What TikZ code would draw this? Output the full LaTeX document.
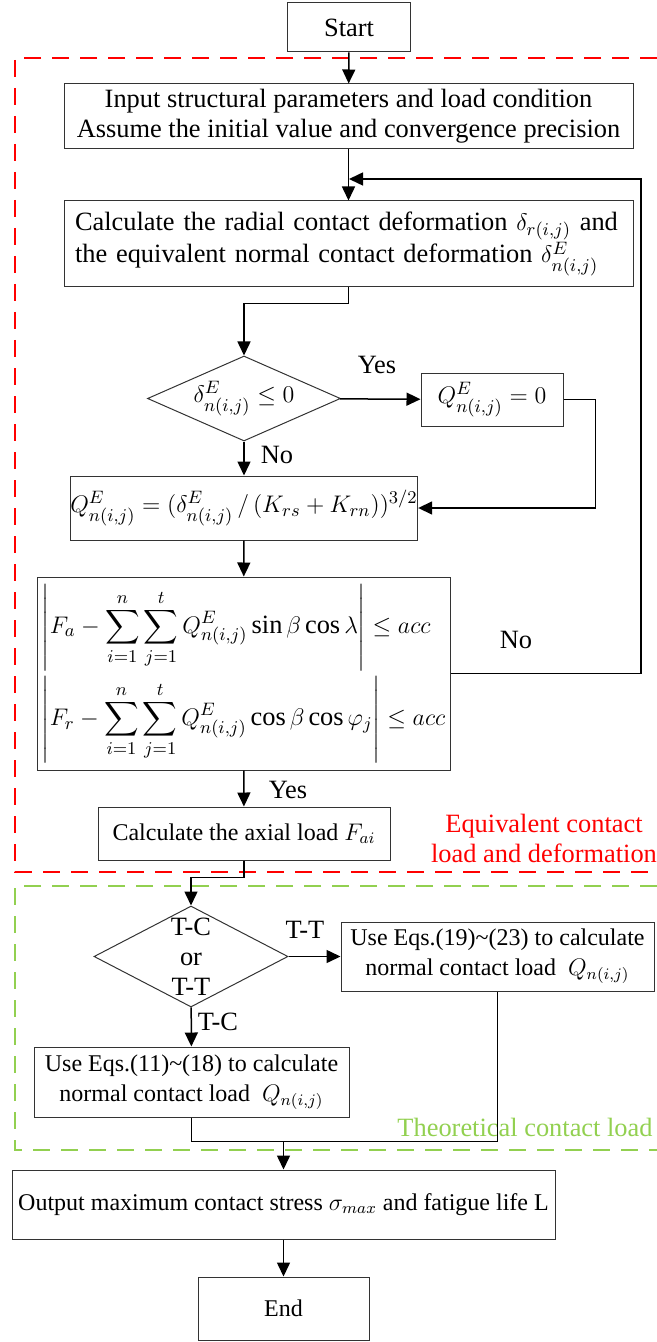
\documentclass[tikz,border=0pt]{standalone}
\usepackage{amsmath}
\usepackage{fontspec}
\setmainfont{Liberation Serif}
\usetikzlibrary{shapes.geometric,arrows.meta}

\definecolor{frameRed}{RGB}{255,0,0}
\definecolor{frameGreen}{RGB}{146,208,80}
\newcommand{\mainsize}{\fontsize{13.2}{15}\selectfont}
\newcommand{\boxsize}{\fontsize{12}{15}\selectfont}

\begin{document}
\begin{tikzpicture}[x=0.5pt,y=-0.5pt,
  box/.style={draw=black!80, line width=0.5pt, align=center, inner sep=0pt, font=\mainsize},
  decision/.style={box, diamond},
  line/.style={line width=0.75pt},
  arrow/.style={line, -{Triangle[length=7pt,width=6.5pt]}},
  tag/.style={inner sep=0pt, font=\mainsize},
  frame/.style={line width=1.1pt, dash pattern=on 8.5pt off 5.5pt}]
  \useasboundingbox (0,0) rectangle (657,1342);

  % dashed frames
  \draw[frame, frameRed] (657,58) -- (15,58) -- (15,872) -- (657,872);
  \draw[frame, frameGreen] (657,886) -- (15,886) -- (15,1150) -- (657,1150);
  \node[tag, text=frameRed, align=center] (eqtag) at (544,838) {Equivalent contact\\load and deformation};
  \node[tag, text=frameGreen] (thtag) at (525,1127) {Theoretical contact load};

  \node[box, minimum width=61.5pt, minimum height=24.5pt] (start) at (349,27.5) {Start};
  \node[box, minimum width=284.5pt, minimum height=32.5pt] (input) at (348.5,116.5)
    {Input structural parameters and load condition\\Assume the initial value and convergence precision};
  \node[box, minimum width=284.5pt, minimum height=43pt, text width=273.5pt, align=left, font=\fontsize{13.2}{16}\selectfont] (calc) at (348.5,244)
    {Calculate the radial contact deformation $\delta_{r(i,j)}$ and\\the equivalent normal contact deformation $\delta^{E}_{n(i,j)}$};
  \node[decision, minimum width=96.5pt, minimum height=42.5pt, aspect=2.27] (dec1) at (244,398.5) {$\delta^{E}_{n(i,j)}\le 0$};
  \node[box, minimum width=71pt, minimum height=26.5pt] (qzero) at (492,399.5) {$Q^{E}_{n(i,j)}=0$};
  \node[box, minimum width=162pt, minimum height=32pt] (qeq) at (244,508)
    {$Q^{E}_{n(i,j)}=(\delta^{E}_{n(i,j)}\,/\,(K_{rs}+K_{rn}))^{3/2}$};
  \node[box, minimum width=206.5pt, minimum height=96.5pt, align=left] (acc) at (243.5,673.5)
    {$\displaystyle\left|F_a-\sum_{i=1}^{n}\sum_{j=1}^{t}Q^{E}_{n(i,j)}\sin\beta\cos\lambda\right|\le acc$\\[2pt]
     $\displaystyle\left|F_r-\sum_{i=1}^{n}\sum_{j=1}^{t}Q^{E}_{n(i,j)}\cos\beta\cos\varphi_j\right|\le acc$};
  \node[box, minimum width=146pt, minimum height=26.5pt, font=\boxsize] (fai) at (244,833.5) {Calculate the axial load $F_{ai}$};

  \node[decision, minimum width=97pt, minimum height=50.5pt, aspect=1.92] (dec2) at (191,956.5) {T-C\\or\\T-T};
  \node[box, minimum width=156.5pt, minimum height=34.5pt, font=\boxsize] (tt) at (497.5,956.5)
    {Use Eqs.(19)\textasciitilde(23) to calculate\\normal contact load\enspace$Q_{n(i,j)}$};
  \node[box, minimum width=157.5pt, minimum height=35pt, font=\boxsize] (tc) at (191.5,1082)
    {Use Eqs.(11)\textasciitilde(18) to calculate\\normal contact load\enspace$Q_{n(i,j)}$};
  \node[box, minimum width=271.5pt, minimum height=34.5pt, font=\boxsize] (output) at (283.5,1204.5)
    {Output maximum contact stress $\sigma_{max}$ and fatigue life L};
  \node[box, minimum width=85.5pt, minimum height=31.5pt, font=\boxsize] (endbox) at (283.5,1308.5) {End};

  \node[tag] (yes1) at (377,365) {Yes};
  \node[tag] (no1) at (277,455) {No};
  \node[tag] (no2) at (516,640) {No};
  \node[tag] (yes2) at (288,790) {Yes};
  \node[tag] (ttag) at (305,930) {T-T};
  \node[tag] (ctag) at (218,1022) {T-C};

  \coordinate (fbr) at (641,179);
  \coordinate (fbin) at (349,179);

  \draw[arrow] (start) -- (input);
  \draw[arrow] (input) -- (calc);
  \draw[arrow] (calc.south) -- ++(0,16) -| (dec1.north);
  \draw[arrow] (dec1) -- (qzero);
  \draw[arrow] (qzero.east) -- ++(32,0) |- (qeq.east);
  \draw[arrow] (dec1) -- (qeq);
  \draw[arrow] (qeq) -- (acc);
  \draw[arrow] (acc.east) -| (fbr) -- (fbin);
  \draw[arrow] (acc) -- (fai);
  \draw[arrow] (fai.south) -- ++(0,17) -| (dec2.north);
  \draw[arrow] (dec2) -- (tt);
  \draw[arrow] (dec2) -- (tc);
  \draw[line] (tc.south) -- ++(0,24) coordinate (jl) -| (tt.south);
  \draw[arrow] (output.north |- jl) -- (output.north);
  \draw[arrow] (output) -- (endbox);
\end{tikzpicture}
\end{document}
